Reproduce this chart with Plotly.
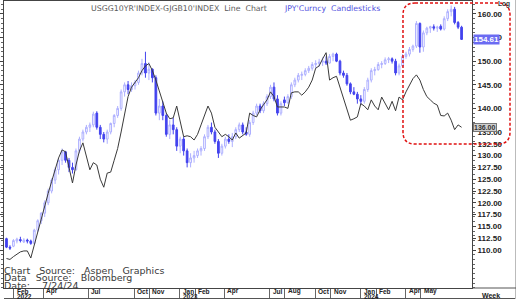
import pandas as pd
import plotly.graph_objects as go

# ---------------- data ----------------
week_start = "2022-01-17"
n_weeks = 132
dates = pd.date_range(week_start, periods=n_weeks, freq="7D")

jpy_open = [112.4,110.6,110.8,111.9,112.2,111.7,112.1,111.9,111.4,114.2,116.2,117.8,120.0,122.5,124.8,127.0,129.0,130.8,129.0,127.5,
            127.0,131.0,133.5,135.0,136.0,136.5,139.0,136.0,134.5,133.5,135.0,136.8,138.5,140.0,143.5,145.0,144.0,144.8,145.5,147.5,
            149.5,147.5,148.3,146.5,139.0,140.5,138.5,134.5,136.5,135.5,132.0,133.5,131.0,128.5,129.5,130.0,131.0,131.5,134.0,136.0,
            135.0,133.0,130.5,132.0,133.5,133.0,134.0,135.5,136.5,135.0,134.5,137.0,139.0,140.5,139.5,141.0,142.5,144.5,142.0,139.0,
            141.8,141.2,142.5,145.0,146.0,147.0,147.2,148.0,148.5,149.3,149.5,149.8,150.0,149.6,151.0,151.5,150.0,147.5,147.0,145.2,
            143.5,143.0,142.0,141.5,144.0,146.0,148.0,148.2,149.3,149.5,150.3,150.5,150.0,147.5,149.0,151.0,151.5,152.5,153.2,158.0,
            153.0,156.0,157.0,157.3,157.0,157.4,156.8,159.0,160.5,161.0,158.2,157.2]
jpy_high = [112.6,111.0,112.3,112.6,112.8,112.5,112.4,112.2,114.5,116.5,118.0,120.5,123.0,125.2,127.5,129.5,131.5,131.0,129.5,128.5,
            131.5,134.0,135.5,136.5,137.0,139.3,139.4,136.5,135.0,135.5,137.0,138.8,140.5,144.0,145.5,145.8,145.5,146.0,148.0,150.5,
            152.0,149.8,148.5,147.0,142.0,141.5,139.0,137.5,138.0,136.0,134.0,134.0,131.5,130.5,131.0,131.5,132.0,134.5,136.5,137.0,
            135.5,133.5,132.5,134.0,134.5,134.8,136.0,137.0,137.0,136.0,137.5,139.5,141.0,141.0,141.5,143.0,145.0,145.5,142.8,141.5,
            142.5,143.0,145.5,146.5,147.5,147.8,148.5,149.0,149.8,150.2,150.5,150.8,151.0,151.5,151.8,151.8,150.3,148.0,147.5,145.5,
            144.5,143.5,142.8,144.5,146.5,148.5,148.8,149.8,150.0,150.8,150.9,150.8,150.5,149.5,151.5,152.0,153.0,153.5,158.5,158.2,
            156.5,157.3,157.5,157.8,157.5,157.8,159.5,161.0,161.8,161.5,158.5,157.5]
jpy_low = [110.4,110.0,110.6,111.4,111.6,111.5,111.4,111.1,111.2,113.8,115.5,117.0,119.5,122.0,124.0,126.0,128.0,128.5,126.5,126.2,
           126.8,130.5,133.0,134.5,135.0,136.0,135.5,133.5,132.8,132.5,134.5,136.0,138.0,139.5,142.5,143.0,143.5,144.0,145.0,147.0,
           146.5,146.0,145.5,138.5,137.5,137.5,134.0,133.5,134.5,131.0,130.5,130.0,127.5,127.5,128.5,129.5,130.0,131.0,133.5,134.5,
           132.5,129.5,130.0,131.5,132.5,131.8,133.5,135.0,134.5,134.2,134.0,136.5,138.5,139.0,139.0,140.5,142.0,141.5,138.5,138.5,
           140.5,141.0,142.0,144.5,145.5,146.0,146.8,147.5,148.0,148.5,148.8,149.0,149.2,149.5,150.0,149.8,147.0,146.5,144.8,143.0,
           142.8,141.0,140.8,141.0,143.5,145.5,147.0,148.0,148.5,149.2,149.6,149.5,147.0,147.0,148.8,150.5,151.0,152.0,152.8,151.8,
           152.0,155.5,156.0,156.5,156.2,156.5,156.5,158.5,159.5,157.8,156.8,154.5]
jpy_close = [110.6,110.4,112.0,112.3,112.0,112.1,111.9,111.4,114.2,116.2,117.8,120.0,122.5,124.8,127.0,129.0,130.8,129.0,127.5,127.0,
             131.0,133.5,135.0,136.0,136.5,138.8,136.0,134.5,133.5,135.0,136.8,138.5,140.0,143.5,145.0,144.0,144.8,145.5,147.5,149.5,
             147.5,148.3,146.5,139.0,140.5,138.5,134.5,136.5,135.5,132.0,133.5,131.0,128.5,129.5,130.0,131.0,131.5,134.0,136.0,135.0,
             133.0,130.5,132.0,133.5,133.0,134.0,135.5,136.5,135.0,134.5,137.0,139.0,140.5,139.5,141.0,142.5,144.5,142.0,139.0,141.0,
             141.2,142.5,145.0,146.0,147.0,147.2,148.0,148.5,149.3,149.5,149.8,150.0,149.6,151.0,151.5,150.0,147.5,147.0,145.2,143.5,
             143.0,142.0,141.5,144.0,146.0,148.0,148.2,149.3,149.5,150.3,150.5,150.0,147.5,149.0,151.0,151.5,152.5,153.2,158.0,153.0,
             156.0,157.0,157.3,157.0,157.2,156.8,159.0,160.5,161.0,158.2,157.2,154.61]

spread_line = [108.2,108.0,108.6,109.2,109.6,109.8,109.8,108.3,111.0,114.0,117.0,119.5,122.0,124.5,127.0,129.5,131.2,130.8,127.5,124.2,
               128.0,131.0,132.7,129.5,127.0,128.5,128.0,125.0,123.3,126.3,126.5,129.0,131.5,135.0,139.0,142.5,144.5,145.5,146.5,148.0,
               149.0,149.5,148.0,146.0,143.5,141.0,139.0,137.8,138.0,140.5,137.5,134.0,134.2,134.0,133.3,134.5,136.5,138.5,140.5,139.0,
               136.0,135.0,134.0,134.5,134.0,133.3,134.8,133.7,134.2,134.8,139.0,138.5,138.2,139.7,140.8,141.8,143.5,142.5,140.3,140.3,
               140.3,140.0,143.3,143.5,143.5,142.8,143.5,144.5,146.0,148.5,149.0,150.5,151.8,146.0,146.5,146.8,144.5,142.0,140.0,137.5,
               137.8,138.2,141.0,140.5,139.7,141.8,140.5,139.7,142.4,141.0,139.7,141.5,139.5,142.4,141.8,143.5,145.0,146.3,147.1,146.0,
               144.0,142.5,141.8,141.1,140.7,138.5,138.4,139.0,137.5,135.5,136.5,136.0]

month_dates = ["2022-02-01", "2022-04-01", "2022-07-01", "2022-10-01", "2022-11-01", "2023-01-01", "2023-02-01",
               "2023-04-01", "2023-07-01", "2023-08-01", "2023-10-01", "2023-11-01", "2024-01-01", "2024-02-01",
               "2024-04-01", "2024-05-01"]
month_labels = ["Feb", "Apr", "Jul", "Oct", "Nov", "Jan", "Feb", "Apr", "Jul", "Aug", "Oct", "Nov", "Jan", "Feb", "Apr", "May"]
year_dates = ["2022-02-01", "2023-01-01", "2024-01-01"]
year_labels = ["2022", "2023", "2024"]

y_ticks = [110, 112.5, 115, 117.5, 120, 122.5, 125, 127.5, 130, 132.5, 135, 140, 145, 150, 155, 160]
y_ticktext = [f"{v:.2f}" for v in y_ticks]

title_line = "USGG10YR'INDEX-GJGB10'INDEX  Line  Chart"
title_candle = "JPY'Curncy  Candlesticks"
source_lines = ["Chart   Source:   Aspen   Graphics", "Data   Source:   Bloomberg", "Date:    7/24/24"]

# ---------------- layout geometry (pixels) ----------------
W, H = 517, 300
PL, PR, PT, PB = 4, 472, 1, 288   # plot area box in pixels


def px_x(px):
    return (px - PL) / (PR - PL)


def px_y(py):
    return (PB - py) / (PB - PT)


fig = go.Figure()

fig.add_trace(go.Candlestick(
    x=dates, open=jpy_open, high=jpy_high, low=jpy_low, close=jpy_close,
    increasing=dict(line=dict(color="#aeb0ff", width=1), fillcolor="#ffffff"),
    decreasing=dict(line=dict(color="#4343ee", width=1), fillcolor="#4343ee"),
    whiskerwidth=0, showlegend=False, hoverinfo="skip",
))

fig.add_trace(go.Scatter(
    x=dates, y=spread_line, mode="lines",
    line=dict(color="#3a3a3a", width=1), showlegend=False, hoverinfo="skip",
))

annotations = []
# titles
annotations.append(dict(x=px_x(89), y=px_y(8), xref="paper", yref="paper", text=title_line,
                        showarrow=False, xanchor="left", yanchor="middle",
                        font=dict(family="DejaVu Sans", size=7.8, color="#5a5a5a")))
annotations.append(dict(x=px_x(282), y=px_y(8), xref="paper", yref="paper", text=title_candle,
                        showarrow=False, xanchor="left", yanchor="middle",
                        font=dict(family="DejaVu Sans", size=7.8, color="#5252e0")))
# source text
for i, t in enumerate(source_lines):
    annotations.append(dict(x=px_x(2), y=px_y(270 + 7.5 * i), xref="paper", yref="paper", text=t,
                            showarrow=False, xanchor="left", yanchor="middle",
                            font=dict(family="DejaVu Sans", size=9.5, color="#3a3a3a")))
# month / year labels
for d, t in zip(month_dates, month_labels):
    annotations.append(dict(x=d, y=px_y(291), xref="x", yref="paper", text=t, showarrow=False,
                            xanchor="left", yanchor="middle", xshift=1,
                            font=dict(family="Liberation Sans", size=6.5, color="#222", weight="bold")))
for d, t in zip(year_dates, year_labels):
    annotations.append(dict(x=d, y=px_y(296.5), xref="x", yref="paper", text=t, showarrow=False,
                            xanchor="left", yanchor="middle", xshift=1,
                            font=dict(family="Liberation Sans", size=6.5, color="#222", weight="bold")))
annotations.append(dict(x=px_x(480), y=px_y(295), xref="paper", yref="paper", text="Week", showarrow=False,
                        xanchor="left", yanchor="middle",
                        font=dict(family="Liberation Sans", size=7, color="#222", weight="bold")))
annotations.append(dict(x=px_x(496), y=px_y(3.5), xref="paper", yref="paper", text="Log", showarrow=False,
                        xanchor="left", yanchor="middle",
                        font=dict(family="Liberation Sans", size=6.5, color="#333", weight="bold")))
# last value boxes
annotations.append(dict(x=1, y=jpy_close[-1], xref="paper", yref="y", text=f"{jpy_close[-1]:.2f}",
                        showarrow=False, xanchor="left", yanchor="middle", xshift=1,
                        bgcolor="#6b6bf2", borderpad=0,
                        font=dict(family="Liberation Sans", size=8, color="#ffffff", weight="bold")))
annotations.append(dict(x=1, y=spread_line[-1], xref="paper", yref="y", text=f"{spread_line[-1]:.2f}",
                        showarrow=False, xanchor="left", yanchor="middle", xshift=1,
                        bgcolor="#cfcfcf", bordercolor="#777", borderwidth=1, borderpad=0,
                        font=dict(family="Liberation Sans", size=7, color="#333", weight="bold")))

# red dashed rounded highlight box
bl, br, bt, bb, r = 403, 510, 3, 144, 12
pts = [
    ("M", (bl + r, bt)), ("L", (br - r, bt)), ("Q", (br, bt), (br, bt + r)),
    ("L", (br, bb - r)), ("Q", (br, bb), (br - r, bb)), ("L", (bl + r, bb)),
    ("Q", (bl, bb), (bl, bb - r)), ("L", (bl, bt + r)), ("Q", (bl, bt), (bl + r, bt)),
]
path = ""
for cmd, *cs in pts:
    path += cmd + " " + " ".join(f"{px_x(cx):.5f},{px_y(cy):.5f}" for cx, cy in cs) + " "
path += "Z"
shapes = [
    dict(type="path", path=path, xref="paper", yref="paper",
         line=dict(color="#e01010", width=1.5, dash="3px,2px"), layer="above"),
    # outer frame of the picture
    dict(type="line", xref="paper", yref="paper", x0=px_x(PL), x1=px_x(516), y0=px_y(298.5), y1=px_y(298.5),
         line=dict(color="#555", width=1)),
    dict(type="line", xref="paper", yref="paper", x0=px_x(515.5), x1=px_x(515.5), y0=px_y(0), y1=px_y(299),
         line=dict(color="#bbb", width=1)),
    dict(type="line", xref="paper", yref="paper", x0=px_x(PR), x1=px_x(516), y0=px_y(288), y1=px_y(288),
         line=dict(color="#555", width=1)),
]

fig.update_layout(
    width=W, height=H, autosize=False,
    margin=dict(l=PL, r=W - PR, t=PT, b=H - PB),
    paper_bgcolor="white", plot_bgcolor="white",
    annotations=annotations, shapes=shapes,
    xaxis=dict(
        type="date", range=["2022-01-12", "2024-08-12"], rangeslider=dict(visible=False),
        showgrid=False, zeroline=False, showline=True, linecolor="#444", linewidth=1, mirror=True,
        tickmode="array", tickvals=month_dates, ticks="outside", ticklen=10, tickcolor="#666",
        showticklabels=False,
    ),
    yaxis=dict(
        side="right", range=[101.95, 162.75], showgrid=False, zeroline=False,
        showline=True, linecolor="#444", linewidth=1, mirror="ticks",
        tickmode="array", tickvals=y_ticks, ticktext=y_ticktext,
        ticks="outside", ticklen=3, tickcolor="#444",
        minor=dict(ticks="outside", ticklen=2, dtick=1, tickcolor="#666"),
        tickfont=dict(family="Liberation Sans", size=8, color="#222", weight="bold"),
    ),
)

fig.write_html("out.html")
